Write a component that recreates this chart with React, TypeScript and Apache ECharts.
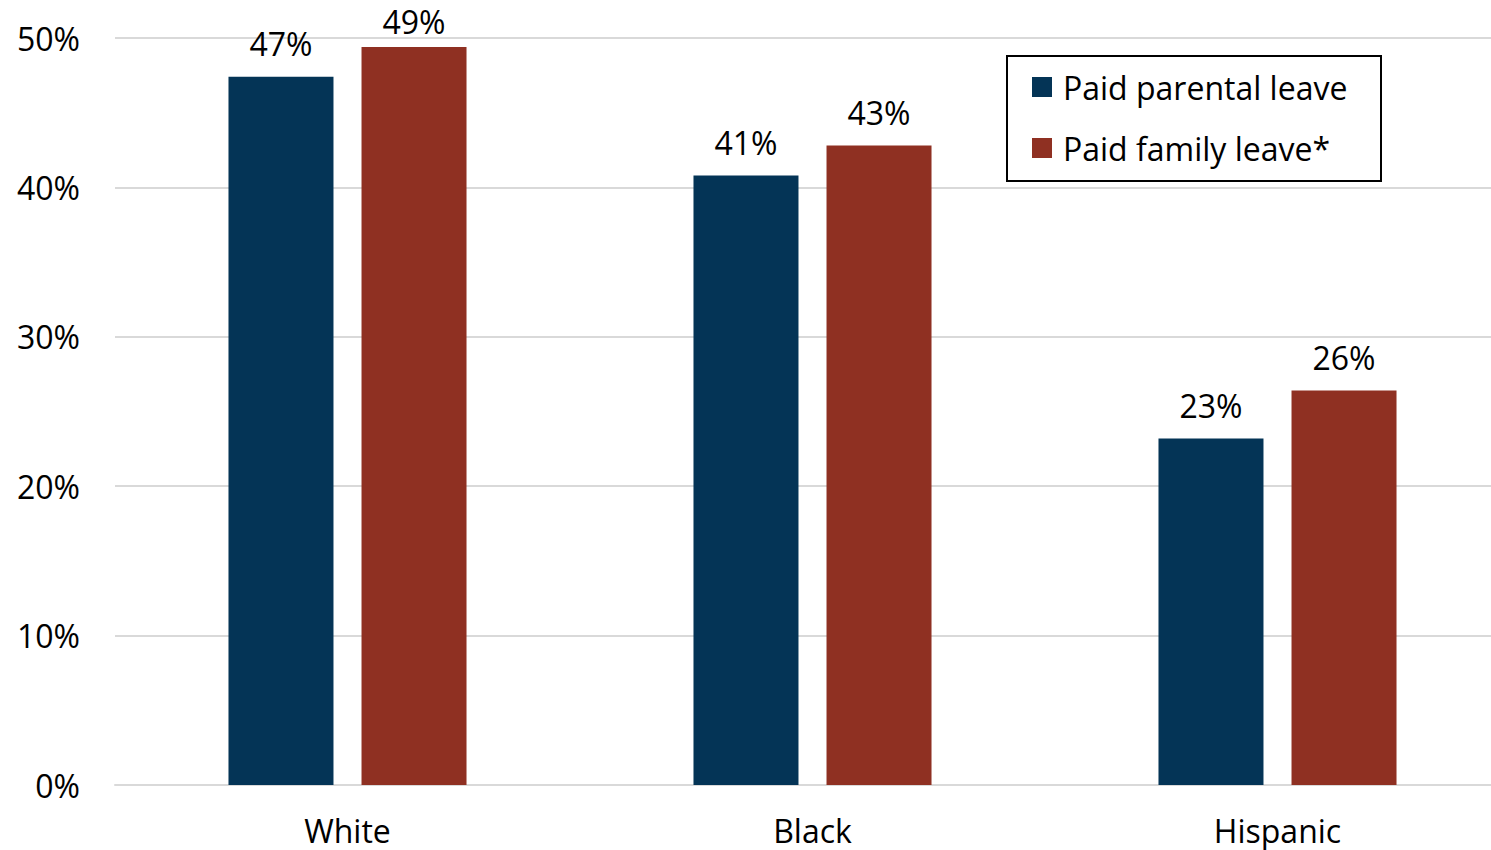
import React, { useEffect, useRef } from "react";
import * as echarts from "echarts";

const categories = ["White", "Black", "Hispanic"];
const parentalLeave = [47.4, 40.8, 23.2];
const familyLeave = [49.4, 42.8, 26.4];
const seriesNames = ["Paid parental leave", "Paid family leave*"];
const yTicks = [0, 10, 20, 30, 40, 50];

const FONT = "'Open Sans', sans-serif";

export default function App() {
  const ref = useRef<HTMLDivElement>(null);
  useEffect(() => {
    const chart = echarts.init(ref.current!, null, { renderer: "svg" });
    const labelCfg = {
      show: true,
      position: "top",
      distance: 17,
      color: "#000",
      fontFamily: FONT,
      fontSize: 32,
      formatter: (p: any) => Math.round(p.value) + "%",
    };
    // label that would exceed the plot top is pulled closer to its bar
    const yMax = yTicks[yTicks.length - 1];
    const familyData = familyLeave.map((v) =>
      v > yMax - 1.5 ? { value: v, label: { distance: 9 } } : v
    );
    chart.setOption({
      animation: false,
      backgroundColor: "#fff",
      grid: { left: 115, right: 0, top: 38, bottom: 65, containLabel: false },
      legend: {
        orient: "vertical",
        left: 1032,
        top: 71,
        itemWidth: 20,
        itemHeight: 20,
        itemGap: 29,
        icon: "rect",
        padding: 0,
        textStyle: {
          fontFamily: FONT,
          fontSize: 32,
          color: "#000",
          lineHeight: 30,
          padding: [0, 0, 0, 6],
        },
        data: seriesNames,
      },
      graphic: [
        {
          type: "rect",
          shape: { x: 1007, y: 56, width: 374, height: 125 },
          style: { fill: "none", stroke: "#000", lineWidth: 2 },
          z: 10,
        },
      ],
      xAxis: {
        type: "category",
        data: categories,
        axisTick: { show: false },
        axisLine: { show: true, lineStyle: { color: "#d9d9d9", width: 2 } },
        axisLabel: { color: "#000", fontFamily: FONT, fontSize: 32, margin: 29 },
      },
      yAxis: {
        type: "value",
        min: yTicks[0],
        max: yMax,
        interval: 10,
        axisLine: { show: false },
        axisTick: { show: false },
        splitLine: { lineStyle: { color: "#d9d9d9", width: 2 } },
        axisLabel: {
          color: "#000",
          fontFamily: FONT,
          fontSize: 32,
          margin: 35,
          formatter: (v: number) => v + "%",
        },
      },
      series: [
        {
          name: seriesNames[0],
          type: "bar",
          data: parentalLeave,
          barWidth: 105,
          barGap: "26.7%",
          itemStyle: { color: "#043456" },
          label: labelCfg,
        },
        {
          name: seriesNames[1],
          type: "bar",
          data: familyData,
          barWidth: 105,
          itemStyle: { color: "#8f3022" },
          label: labelCfg,
        },
      ],
    });
    return () => chart.dispose();
  }, []);
  return (
    <div
      style={{
        position: "absolute",
        left: 0,
        top: 0,
        width: 1491,
        height: 850,
        overflow: "hidden",
        background: "#fff",
      }}
    >
      <div ref={ref} style={{ width: 1510, height: 850 }} />
    </div>
  );
}
